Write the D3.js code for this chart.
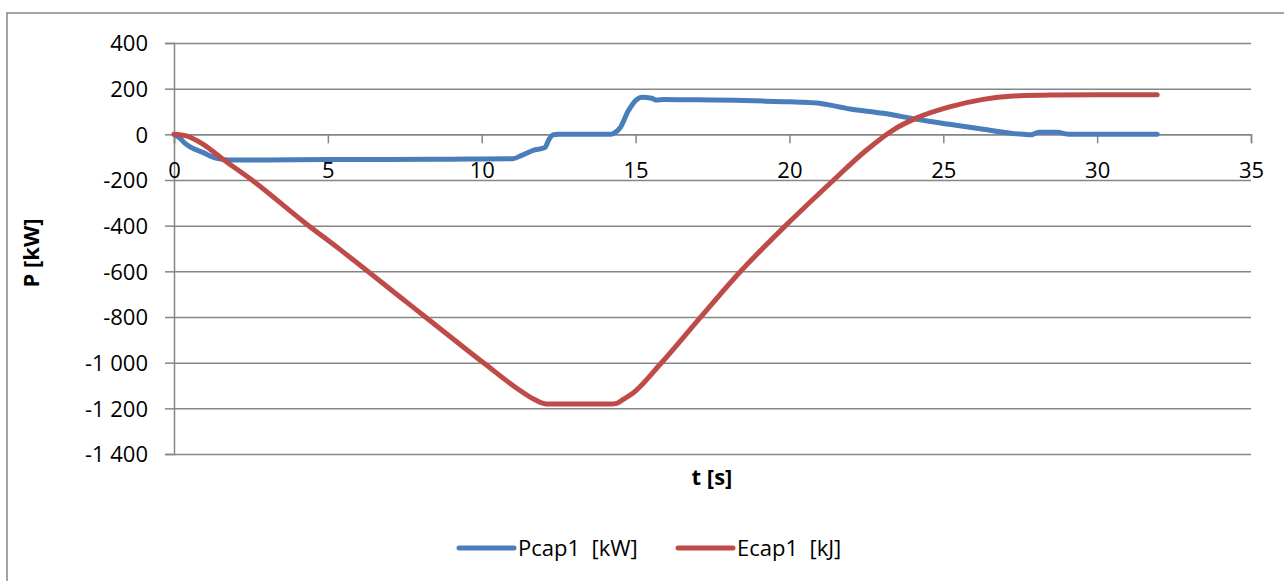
<!DOCTYPE html>
<html>
<head>
<meta charset="utf-8">
<script src="https://cdn.jsdelivr.net/npm/d3@7"></script>
<style>
  html, body { margin: 0; padding: 0; background: #fff; }
  svg { display: block; }
  text { font-family: "Open Sans", sans-serif; fill: #000; }
</style>
</head>
<body>
<svg id="chart" width="1284" height="581"></svg>
<script>
// ---- data ----
const pcapT = [0, 0.2, 0.36, 0.52, 0.95, 1.39, 1.82, 3, 5, 7, 9, 10, 11.0, 11.3, 11.67, 12.06, 12.16, 12.33, 12.5, 14.2, 14.28, 14.5, 14.76, 15.04, 15.2, 15.52, 15.69, 15.9, 17, 18.2, 19.8, 20.35, 20.9, 21.97, 23.05, 24.14, 25.2, 26.3, 27.4, 27.85, 28.1, 28.7, 29.1, 30, 31, 31.95];
const pcapV = [0, -18, -40, -55, -80, -105, -112, -112, -110, -110, -109, -108, -107, -92, -70, -58, -29, -2, 0, 0, 4, 29, 102, 153, 162, 158, 150, 153, 151, 149, 143, 141, 137, 111, 92, 66, 44, 22, 2, -2, 9, 9, 0, 0, 0, 0];

const ecapT = [0, 0.4, 0.95, 1.6, 2.53, 4.26, 5.4, 7.56, 8.21, 10.1, 11.14, 11.7, 12.11, 14.2, 14.39, 14.6, 14.93, 15.8, 17.1, 18.4, 19.86, 21.43, 22.45, 23.38, 24.14, 25.2, 26.3, 27.17, 28.5, 30, 31.95];
const ecapV = [0, -7, -44, -110, -200, -388, -505, -735, -804, -1005, -1112, -1160, -1181, -1181, -1178, -1161, -1132, -1007, -803, -602, -402, -201, -75, 20, 72, 120, 153, 167, 172, 173, 173];

const seriesNames = ["Pcap1  [kW]", "Ecap1  [kJ]"];
const seriesColors = ["#4A7EBB", "#BE4B48"];
const xTicks = [0, 5, 10, 15, 20, 25, 30, 35];
const yTicks = [400, 200, 0, -200, -400, -600, -800, -1000, -1200, -1400];
const xTitle = "t [s]";
const yTitle = "P [kW]";

// ---- layout ----
const svg = d3.select("#chart");
const pLeft = 174, pRight = 1251, pTop = 43, pBottom = 454;
const x = d3.scaleLinear().domain([0, 35]).range([pLeft, pRight]);
const y = d3.scaleLinear().domain([-1400, 400]).range([pBottom, pTop]);
const gridColor = "#868686";
const fmt = d3.formatLocale({decimal: ",", thousands: "\u00a0", grouping: [3], currency: ["", ""], minus: "-"}).format(",d");

// outer frame
svg.append("rect").attr("x", 7).attr("y", 13).attr("width", 1300).attr("height", 600)
  .attr("fill", "none").attr("stroke", gridColor).attr("stroke-width", 1.5);

// gridlines
const grid = svg.append("g").attr("transform", `translate(${pLeft},0)`)
  .call(d3.axisLeft(y).tickValues(yTicks).tickSize(-(pRight - pLeft)).tickFormat(""));
grid.select(".domain").remove();
grid.selectAll("line").attr("stroke", gridColor).attr("stroke-width", 1.5);

// y axis
const yAxis = svg.append("g").attr("transform", `translate(${pLeft},0)`)
  .call(d3.axisLeft(y).tickValues(yTicks).tickSize(9).tickSizeOuter(9).tickFormat(fmt));
yAxis.select(".domain").attr("stroke", gridColor).attr("stroke-width", 1.5);
yAxis.selectAll("line").attr("stroke", gridColor).attr("stroke-width", 1.5);
yAxis.selectAll("text").attr("x", -26).attr("dy", "0.35em")
  .style("font-family", "'Open Sans', sans-serif").style("font-size", "22px").attr("fill", "#000");

// x axis at y=0
const xAxis = svg.append("g").attr("transform", `translate(0,${y(0)})`)
  .call(d3.axisBottom(x).tickValues(xTicks).tickSize(9).tickSizeOuter(9).tickFormat(d3.format("d")));
xAxis.select(".domain").attr("stroke", gridColor).attr("stroke-width", 1.5);
xAxis.selectAll("line").attr("stroke", gridColor).attr("stroke-width", 1.5);
xAxis.selectAll("text").attr("y", 36).attr("dy", "0.35em")
  .style("font-family", "'Open Sans', sans-serif").style("font-size", "22px").attr("fill", "#000");

// lines
const line = d3.line().x(d => x(d[0])).y(d => y(d[1])).curve(d3.curveMonotoneX);
const pData = pcapT.map((t, i) => [t, pcapV[i]]);
const eData = ecapT.map((t, i) => [t, ecapV[i]]);
[pData, eData].forEach((data, i) => {
  svg.append("path").datum(data).attr("d", line)
    .attr("fill", "none").attr("stroke", seriesColors[i]).attr("stroke-width", 5)
    .attr("stroke-linecap", "round").attr("stroke-linejoin", "round");
});

// axis titles
svg.append("text").attr("x", 712).attr("y", 477).attr("dy", "0.35em")
  .attr("text-anchor", "middle").style("font-size", "22px").style("font-weight", "bold").text(xTitle);
svg.append("text").attr("transform", "translate(31,253) rotate(-90)").attr("dy", "0.35em")
  .attr("text-anchor", "middle").style("font-size", "22px").style("font-weight", "bold").text(yTitle);

// legend
const legX = [459, 678];
seriesNames.forEach((name, i) => {
  const g = svg.append("g").attr("transform", `translate(${legX[i]},548)`);
  g.append("line").attr("x1", 0).attr("x2", 55).attr("y1", 0).attr("y2", 0)
    .attr("stroke", seriesColors[i]).attr("stroke-width", 5).attr("stroke-linecap", "round");
  g.append("text").attr("x", 59).attr("dy", "0.35em").style("font-size", "22px")
    .style("white-space", "pre").attr("xml:space", "preserve").text(name);
});
</script>
</body>
</html>
